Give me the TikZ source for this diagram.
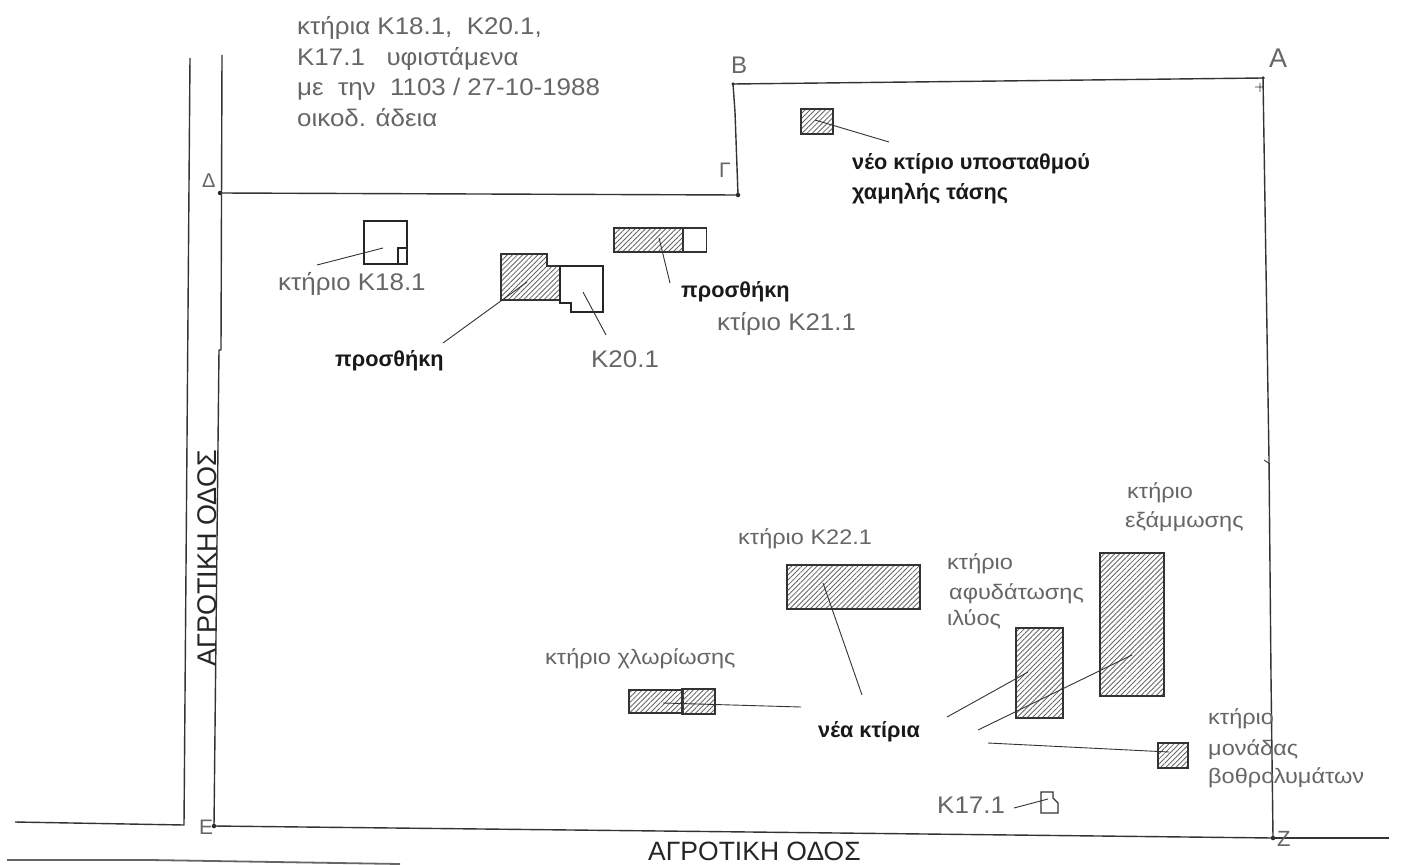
\documentclass[tikz,border=0pt]{standalone}
\usepackage{fontspec}
\setmainfont{Liberation Sans}
\newfontfamily\widefont[FakeStretch=1.08]{Liberation Sans}
\newfontfamily\widerfont[FakeStretch=1.12]{Liberation Sans}
\usetikzlibrary{patterns.meta}
\definecolor{ink}{gray}{0.2}
\definecolor{txt}{gray}{0.4}
\definecolor{hatch}{gray}{0.4}
\tikzset{
  x=1pt,y=-1pt,
  label text/.style={anchor=base west,inner sep=0pt,text=txt,font=\widefont\fontsize{24}{28}\selectfont},
  small text/.style={anchor=base west,inner sep=0pt,text=txt,font=\widerfont\fontsize{21}{25}\selectfont},
  bold text/.style={anchor=base west,inner sep=0pt,text=black!90,font=\fontsize{21.7}{25}\selectfont\bfseries},
  road text/.style={anchor=base west,inner sep=0pt,text=black!85,font=\fontsize{27}{30}\selectfont},
  corner text/.style={anchor=base west,inner sep=0pt,text=txt,font=\fontsize{21}{24}\selectfont},
  boundary/.style={draw=ink,line width=1.4pt,line join=round},
  leader/.style={draw=ink,line width=0.9pt},
  hatched/.style={draw=ink,line width=1.3pt,pattern={Lines[angle=45,distance=3.6pt,line width=.85pt]},pattern color=hatch},
  hatchbox/.style={hatched,rectangle,inner sep=0pt,outer sep=0pt},
  plainbuilding/.style={draw=black!85,line width=2pt,fill=white,line join=miter},
  thinbox/.style={draw=ink,line width=1.3pt,fill=white,rectangle,inner sep=0pt,outer sep=0pt},
  vertex/.style={circle,fill=black!85,inner sep=0pt,minimum size=4.5pt},
}
\begin{document}
\begin{tikzpicture}
\useasboundingbox[fill=white] (0,0) rectangle (1415,864);

% hatched and plain buildings
\node[thinbox,minimum width=24pt,minimum height=24pt] (k21w) at (694.5,240) {};
\node[hatchbox,minimum width=69pt,minimum height=24pt] (k21) at (648.5,240) {};
\node[hatchbox,minimum width=32pt,minimum height=25pt] (sub) at (817,121.5) {};
\node[hatchbox,minimum width=133pt,minimum height=44pt] (k22) at (853.5,587) {};
\node[hatchbox,minimum width=54pt,minimum height=23pt] (chl) at (656,701.5) {};
\node[hatchbox,minimum width=33pt,minimum height=25pt] (chlb) at (698.5,701.5) {};
\node[hatchbox,minimum width=47pt,minimum height=90pt] (dehyd) at (1039.5,673) {};
\node[hatchbox,minimum width=64pt,minimum height=143pt] (sand) at (1132,624.5) {};
\node[hatchbox,minimum width=30pt,minimum height=25pt] (sludge) at (1173,755.5) {};
\draw[hatched] (501,254) -- (547,254) -- (547,266) -- (560,266) -- (560,300) -- (501,300) -- cycle;
\draw[plainbuilding] (364,221) rectangle (407,264);
\draw[plainbuilding,line width=1.6pt] (407,248) -- (398,248) -- (398,264);
\draw[plainbuilding] (560,266) -- (603,266) -- (603,312) -- (571,312) -- (571,303) -- (560,303) -- cycle;
\draw[draw=ink,line width=1.3pt,fill=white] (1041,792) -- (1053,792) -- (1053,798) -- (1058,803) -- (1058,813) -- (1041,813) -- cycle;

% boundary points
\node[vertex] (D) at (220,193) {};
\node[vertex] (G) at (738,195) {};
\node[vertex,minimum size=3.5pt] (B) at (733,84) {};
\node[vertex,minimum size=3.5pt] (Aa) at (1263,78) {};
\node[vertex] (Zz) at (1273,838) {};
\node[vertex] (Ee) at (214,826) {};
\coordinate (ZR) at (1389,838);
\coordinate (AB1) at (1000,81);
\coordinate (AZ1) at (1269,460);
\coordinate (AZ2) at (1271,677);
\coordinate (EZ1) at (750,832);
\draw[boundary] (D.center) -- (G.center) -- (735,112) -- (B.center) -- (AB1) -- (Aa.center)
  -- (AZ1) -- (AZ2) -- (Zz.center) -- (EZ1) -- (Ee.center);
\draw[boundary] (Zz.center) -- (ZR);

% road lines
\coordinate (RR1) at (222,55);
\coordinate (RR2) at (221,350);
\coordinate (RR3) at (219,350);
\coordinate (RL1) at (190,58);
\coordinate (RL2) at (184,825);
\coordinate (RL3) at (15,822);
\coordinate (RB1) at (7,860);
\coordinate (RB2) at (150,860);
\coordinate (RB3) at (400,864);
\draw[boundary] (RR1) -- (RR2) -- (RR3) -- (Ee.center);
\draw[boundary] (RL1) -- (RL2) -- (RL3);
\draw[boundary,line width=1.8pt,draw=black!60] (RB1) -- (RB2) -- (RB3);

% small marks on the east side
\coordinate (P1) at (1255,87);
\coordinate (P2) at (1264,87);
\coordinate (P3) at (1260,83);
\coordinate (P4) at (1260,92);
\coordinate (T1) at (1264,460);
\coordinate (T2) at (1270,464);
\draw[leader] (P1) -- (P2) (P3) -- (P4) (T1) -- (T2);

% leader lines
\coordinate (a1) at (317,265); \coordinate (b1) at (383,248);
\coordinate (a2) at (443,343); \coordinate (b2) at (527,282);
\coordinate (a3) at (606,335); \coordinate (b3) at (583,292);
\coordinate (a4) at (670,283); \coordinate (b4) at (659,238);
\coordinate (a5) at (889,142); \coordinate (b5) at (815,120);
\coordinate (a6) at (862,695); \coordinate (b6) at (823,583);
\coordinate (a7) at (801,707); \coordinate (b7) at (663,703);
\coordinate (a8) at (947,717); \coordinate (b8) at (1028,672);
\coordinate (a9) at (978,730); \coordinate (b9) at (1132,655);
\coordinate (a10) at (988,743); \coordinate (b10) at (1169,752);
\coordinate (a11) at (1014,808); \coordinate (b11) at (1048,799);
\foreach \i in {1,...,11} {\draw[leader] (a\i) -- (b\i);}

% title block
\node[label text] (t1) at (297,35) {κτήρια K18.1,\ \ K20.1,};
\node[label text] (t2) at (297,66) {K17.1\ \ \ υφιστάμενα};
\node[label text] (t3) at (297,96) {με\ \ την\ \ 1103 / 27-10-1988};
\node[label text] (t4) at (297,126) {οικοδ. άδεια};

% corner letters
\node[corner text,font=\fontsize{20}{22}\selectfont] (lD) at (202,187) {Δ};
\node[corner text,font=\fontsize{24}{26}\selectfont] (lB) at (731,74) {Β};
\node[corner text,font=\fontsize{27}{29}\selectfont] (lA) at (1269,68) {Α};
\node[corner text] (lG) at (719,177) {Γ};
\node[corner text] (lE) at (199,834) {Ε};
\node[corner text,font=\fontsize{22}{24}\selectfont] (lZ) at (1277,846) {Ζ};

% building labels
\node[label text] (l18) at (278,290) {κτήριο K18.1};
\node[bold text] (padd1) at (335,366) {προσθήκη};
\node[label text] (l20) at (591,367) {K20.1};
\node[bold text] (padd2) at (681,297) {προσθήκη};
\node[label text] (l21) at (717,330) {κτίριο K21.1};
\node[bold text] (nsub1) at (852,169) {νέο κτίριο υποσταθμού};
\node[bold text] (nsub2) at (852,199) {χαμηλής τάσης};
\node[small text] (l22) at (738,544) {κτήριο K22.1};
\node[small text] (lchl) at (545,664) {κτήριο χλωρίωσης};
\node[bold text] (nnew) at (818,737) {νέα κτίρια};
\node[small text] (ld1) at (947,569) {κτήριο};
\node[small text] (ld2) at (949,599) {αφυδάτωσης};
\node[small text] (ld3) at (947,625) {ιλύος};
\node[small text] (ls1) at (1127,498) {κτήριο};
\node[small text] (ls2) at (1125,527) {εξάμμωσης};
\node[small text] (lm1) at (1208,724) {κτήριο};
\node[small text] (lm2) at (1208,755) {μονάδας};
\node[small text] (lm3) at (1208,783) {βοθρολυμάτων};
\node[label text] (l17) at (937,813) {K17.1};

% roads
\node[road text,rotate=90] (road1) at (216,667) {ΑΓΡΟΤΙΚΗ ΟΔΟΣ};
\node[road text,font=\fontsize{26.5}{30}\selectfont] (road2) at (648,860.5) {ΑΓΡΟΤΙΚΗ ΟΔΟΣ};
\end{tikzpicture}
\end{document}
